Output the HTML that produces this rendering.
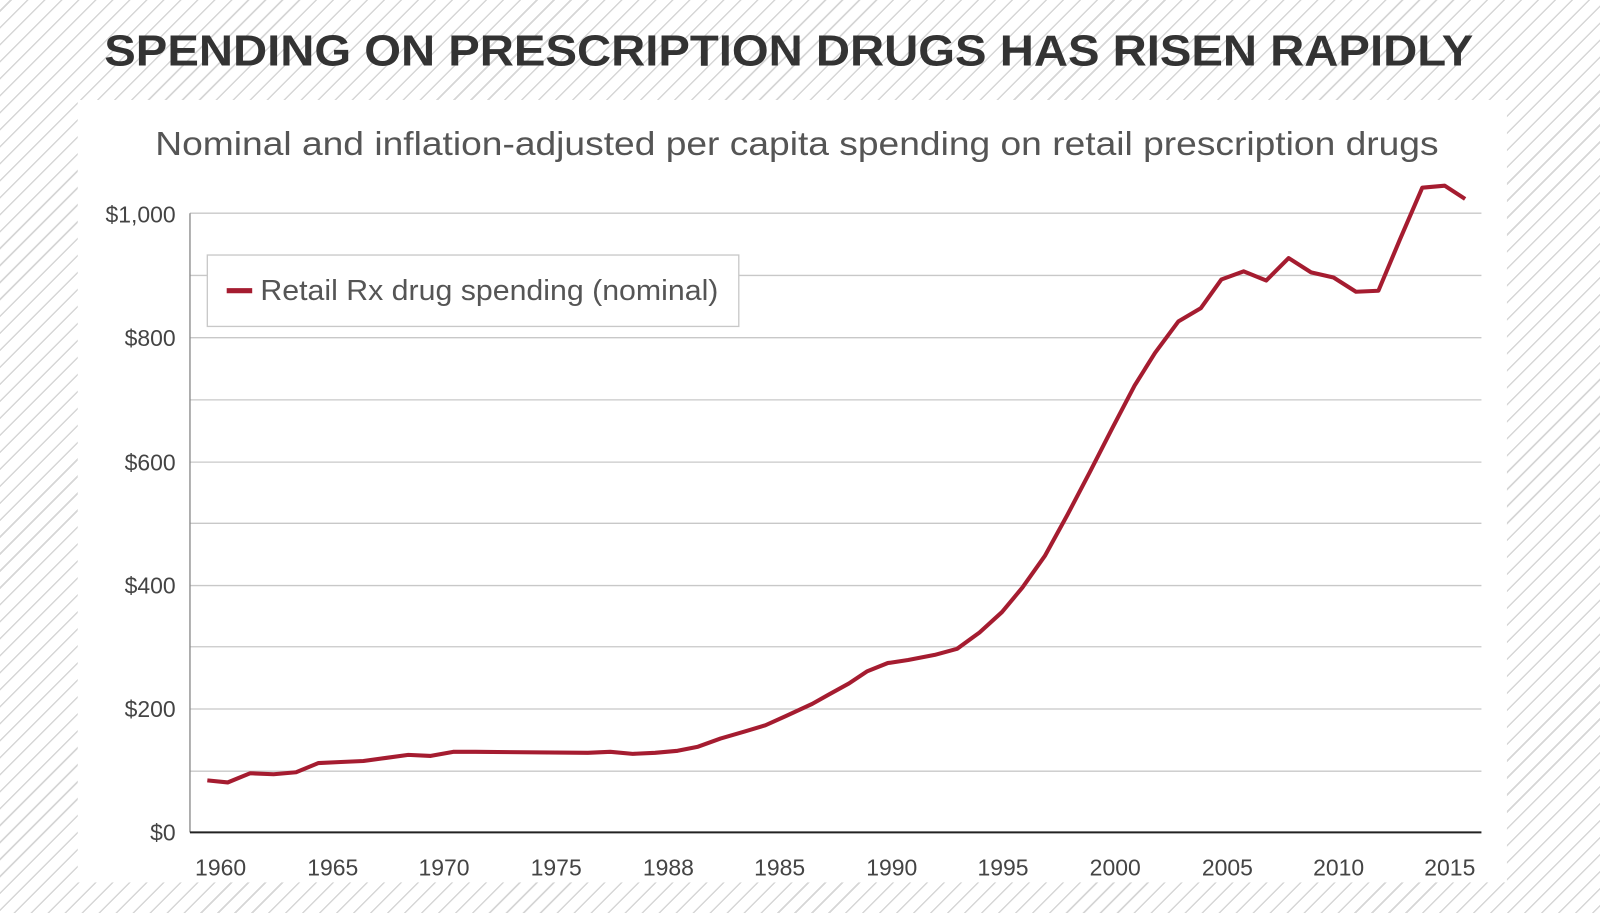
<!DOCTYPE html>
<html><head><style>
html,body{margin:0;padding:0}
body{width:1600px;height:913px;overflow:hidden;font-family:"Liberation Sans",sans-serif;
background:repeating-linear-gradient(135deg,#fff 0 7px,#d6d6d6 7px 8.5px,#fff 8.5px 12px);}
</style></head><body>
<svg width="1600" height="913" viewBox="0 0 1568 895" style="position:absolute;left:0;top:0">
<rect x="76" y="98" width="1401" height="767" fill="#fff"/>
<text x="773" y="64" text-anchor="middle" font-size="43" font-weight="bold" fill="#333" textLength="1342" lengthAdjust="spacingAndGlyphs">SPENDING ON PRESCRIPTION DRUGS HAS RISEN RAPIDLY</text>
<text x="781" y="152" text-anchor="middle" font-size="33" fill="#555" textLength="1258" lengthAdjust="spacingAndGlyphs">Nominal and inflation-adjusted per capita spending on retail prescription drugs</text>
<g stroke="#c8c8c8" stroke-width="1.3">
<line x1="186" x2="1452" y1="209" y2="209"/><line x1="186" x2="1452" y1="270" y2="270"/>
<line x1="186" x2="1452" y1="331" y2="331"/><line x1="186" x2="1452" y1="392" y2="392"/>
<line x1="186" x2="1452" y1="453" y2="453"/><line x1="186" x2="1452" y1="513" y2="513"/>
<line x1="186" x2="1452" y1="574" y2="574"/><line x1="186" x2="1452" y1="634" y2="634"/>
<line x1="186" x2="1452" y1="695" y2="695"/><line x1="186" x2="1452" y1="756" y2="756"/>
</g>
<line x1="186" x2="186" y1="209" y2="816" stroke="#888" stroke-width="1.3"/>
<line x1="186" x2="1452" y1="816" y2="816" stroke="#222" stroke-width="2"/>
<g font-size="22.5" fill="#444" text-anchor="end">
<text x="172" y="218">$1,000</text><text x="172" y="339">$800</text><text x="172" y="461">$600</text>
<text x="172" y="582">$400</text><text x="172" y="703">$200</text><text x="172" y="824">$0</text>
</g>
<g font-size="22.5" fill="#444" text-anchor="middle">
<text x="216" y="858">1960</text><text x="326" y="858">1965</text><text x="435" y="858">1970</text>
<text x="545" y="858">1975</text><text x="655" y="858">1988</text><text x="764" y="858">1985</text>
<text x="874" y="858">1990</text><text x="983" y="858">1995</text><text x="1093" y="858">2000</text>
<text x="1203" y="858">2005</text><text x="1312" y="858">2010</text><text x="1421" y="858">2015</text>
</g>
<rect x="203" y="250" width="521" height="70" fill="#fff" stroke="#c8c8c8" stroke-width="1.3"/>
<line x1="222" x2="247" y1="285" y2="285" stroke="#a51c30" stroke-width="5"/>
<text x="255" y="294" font-size="28" fill="#555" textLength="449" lengthAdjust="spacingAndGlyphs">Retail Rx drug spending (nominal)</text>
<polyline fill="none" stroke="#a51c30" stroke-width="4" stroke-linejoin="round" points="
203,765 223,767 245,758 268,759 290,757 312,748 334,747 356,746 378,743 400,740 422,741 444,737 466,737 576,738 598,737 620,739 642,738 664,736 684,732 706,724 730,717 750,711 770,702 796,690 812,681 832,670 850,658 870,650 890,647 916,642 938,636 960,620 982,600 1002,576 1024,545 1046,505 1068,463 1090,420 1112,378 1132,346 1155,315 1177,302 1197,274 1219,266 1241,275 1263,253 1285,267 1307,272 1329,286 1351,285 1372,235 1394,184 1416,182 1436,195"/>
</svg>
</body></html>
